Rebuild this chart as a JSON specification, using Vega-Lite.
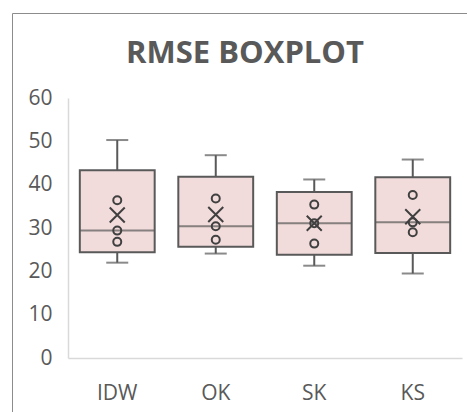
{
  "$schema": "https://vega.github.io/schema/vega-lite/v6.json",
  "autosize": {"type": "none"},
  "padding": {"left": 12, "top": 13, "right": 0, "bottom": 0},
  "width": 460,
  "height": 405,
  "background": "white",
  "config": {
    "font": "Open Sans",
    "view": {"stroke": "#8c8c8c", "strokeWidth": 1}
  },
  "title": {
    "text": "RMSE BOXPLOT",
    "fontSize": 31,
    "fontWeight": "bold",
    "color": "#595959",
    "anchor": "middle",
    "frame": "group",
    "baseline": "alphabetic",
    "offset": 0,
    "dy": 81,
    "dx": 3
  },
  "datasets": {
    "summary": [
      {"method": "IDW", "min": 22.0, "q1": 24.4, "median": 29.4, "q3": 43.35, "max": 50.3, "mean": 33.0},
      {"method": "OK", "min": 24.1, "q1": 25.7, "median": 30.4, "q3": 41.8, "max": 46.8, "mean": 33.1},
      {"method": "SK", "min": 21.3, "q1": 23.85, "median": 31.1, "q3": 38.3, "max": 41.2, "mean": 31.1},
      {"method": "KS", "min": 19.5, "q1": 24.25, "median": 31.3, "q3": 41.7, "max": 45.8, "mean": 32.6}
    ],
    "points": [
      {"method": "IDW", "value": 26.8},
      {"method": "IDW", "value": 29.4},
      {"method": "IDW", "value": 36.4},
      {"method": "OK", "value": 27.3},
      {"method": "OK", "value": 30.4},
      {"method": "OK", "value": 36.8},
      {"method": "SK", "value": 26.4},
      {"method": "SK", "value": 31.1},
      {"method": "SK", "value": 35.4},
      {"method": "KS", "value": 29.0},
      {"method": "KS", "value": 31.3},
      {"method": "KS", "value": 37.6}
    ]
  },
  "encoding": {
    "x": {
      "field": "method",
      "type": "nominal",
      "sort": ["IDW", "OK", "SK", "KS"],
      "scale": {"domain": ["IDW", "OK", "SK", "KS"], "range": [56, 450], "paddingInner": 0.24, "paddingOuter": 0.12},
      "axis": {
        "title": null,
        "orient": "bottom",
        "offset": -60,
        "labelAngle": 0,
        "labelFontSize": 21,
        "labelColor": "#595959",
        "labelPadding": 24,
        "ticks": false,
        "domainColor": "#d9d9d9",
        "domainWidth": 1.5,
        "grid": false
      }
    }
  },
  "layer": [
    {
      "data": {"name": "summary"},
      "mark": {"type": "rule", "color": "#595959", "strokeWidth": 2},
      "encoding": {
        "y": {
          "field": "min",
          "type": "quantitative",
          "scale": {"domain": [0, 60], "range": [345, 85], "nice": false, "zero": true},
          "axis": {
            "title": null,
            "orient": "left",
            "offset": -56,
            "values": [0, 10, 20, 30, 40, 50, 60],
            "labelFontSize": 21,
            "labelColor": "#595959",
            "labelPadding": 16,
            "ticks": false,
            "grid": false,
            "domainColor": "#d9d9d9",
            "domainWidth": 1.5
          }
        },
        "y2": {"field": "q1"}
      }
    },
    {
      "data": {"name": "summary"},
      "mark": {"type": "rule", "color": "#595959", "strokeWidth": 2},
      "encoding": {
        "y": {"field": "q3", "type": "quantitative"},
        "y2": {"field": "max"}
      }
    },
    {
      "data": {"name": "summary"},
      "mark": {"type": "tick", "color": "#595959", "thickness": 2, "size": 22},
      "encoding": {"y": {"field": "min", "type": "quantitative"}}
    },
    {
      "data": {"name": "summary"},
      "mark": {"type": "tick", "color": "#595959", "thickness": 2, "size": 22},
      "encoding": {"y": {"field": "max", "type": "quantitative"}}
    },
    {
      "data": {"name": "summary"},
      "mark": {"type": "bar", "fill": "#f2dcdb", "stroke": "#595959", "strokeWidth": 2},
      "encoding": {
        "y": {"field": "q1", "type": "quantitative"},
        "y2": {"field": "q3"}
      }
    },
    {
      "data": {"name": "summary"},
      "mark": {"type": "tick", "color": "#595959", "thickness": 2, "size": 75},
      "encoding": {"y": {"field": "median", "type": "quantitative"}}
    },
    {
      "data": {"name": "points"},
      "mark": {"type": "point", "shape": "circle", "filled": false, "size": 64, "stroke": "#404040", "strokeWidth": 2, "opacity": 1},
      "encoding": {"y": {"field": "value", "type": "quantitative"}}
    },
    {
      "data": {"name": "summary"},
      "mark": {"type": "point", "shape": "M-1,-1L1,1M-1,1L1,-1", "filled": false, "size": 225, "stroke": "#404040", "strokeWidth": 2, "opacity": 1},
      "encoding": {"y": {"field": "mean", "type": "quantitative"}}
    }
  ]
}
